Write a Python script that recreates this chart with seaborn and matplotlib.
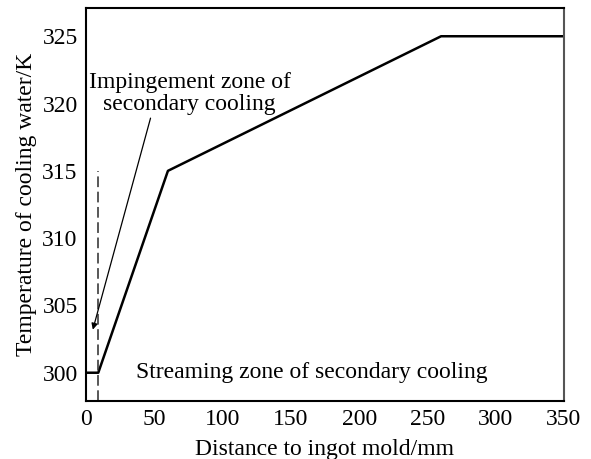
import matplotlib
matplotlib.use("Agg")
import matplotlib.pyplot as plt
import seaborn as sns
import pandas as pd

# Cooling water temperature profile along the strand
distance_mm = [0, 9, 60, 260, 350]
temperature_k = [300, 300, 315, 325, 325]

x_ticks = [0, 50, 100, 150, 200, 250, 300, 350]
y_ticks = [300, 305, 310, 315, 320, 325]

impingement_x = 9
impingement_top = 315

sns.set_theme(style="white")
plt.rcParams["font.family"] = ["Liberation Serif", "DejaVu Serif"]
plt.rcParams["mathtext.fontset"] = "stix"
plt.rcParams["text.color"] = "black"
plt.rcParams["axes.labelcolor"] = "black"

df = pd.DataFrame({"distance": distance_mm, "temperature": temperature_k})

fig = plt.figure(figsize=(5.91, 4.59), dpi=100)
ax = fig.add_axes([0.1455, 0.1264, 0.8088, 0.8562])

sns.lineplot(data=df, x="distance", y="temperature", ax=ax,
             color="black", linewidth=1.8, sort=False)

# boundary of the impingement zone
ax.plot([impingement_x, impingement_x], [297.9, impingement_top],
        color="#2a2a2a", linewidth=1.1, linestyle=(0, (7, 3)))

ax.set_xlim(0, 350)
ax.set_ylim(297.9, 327.1)
ax.set_xticks(x_ticks)
ax.set_yticks(y_ticks)

ax.set_xlabel("Distance to ingot mold/mm", fontsize=17, color="black", labelpad=6)
ax.set_ylabel("Temperature of cooling water/K", fontsize=17, color="black", labelpad=4)

ax.tick_params(axis="x", direction="in", length=5, width=1.0, labelsize=17,
               colors="black", pad=6)
ax.tick_params(axis="y", direction="out", length=5, width=1.0, labelsize=17,
               colors="black", pad=1)

for side in ["left", "bottom", "top"]:
    ax.spines[side].set_visible(True)
    ax.spines[side].set_color("black")
    ax.spines[side].set_linewidth(1.5)
ax.spines["right"].set_visible(True)
ax.spines["right"].set_color("#555555")
ax.spines["right"].set_linewidth(1.5)

ax.annotate("Impingement zone of\nsecondary cooling",
            xy=(5.0, 303.2), xytext=(76, 320.75),
            ha="center", va="center", fontsize=17, linespacing=1.05,
            color="black",
            arrowprops=dict(arrowstyle="-|>", color="black", lw=0.9,
                            mutation_scale=9, shrinkA=0, shrinkB=0,
                            relpos=(0.31, 0.0)))

ax.text(165, 300.05, "Streaming zone of secondary cooling",
        ha="center", va="center", fontsize=17, color="black")

fig.savefig("out.png", dpi=100, facecolor="white")
